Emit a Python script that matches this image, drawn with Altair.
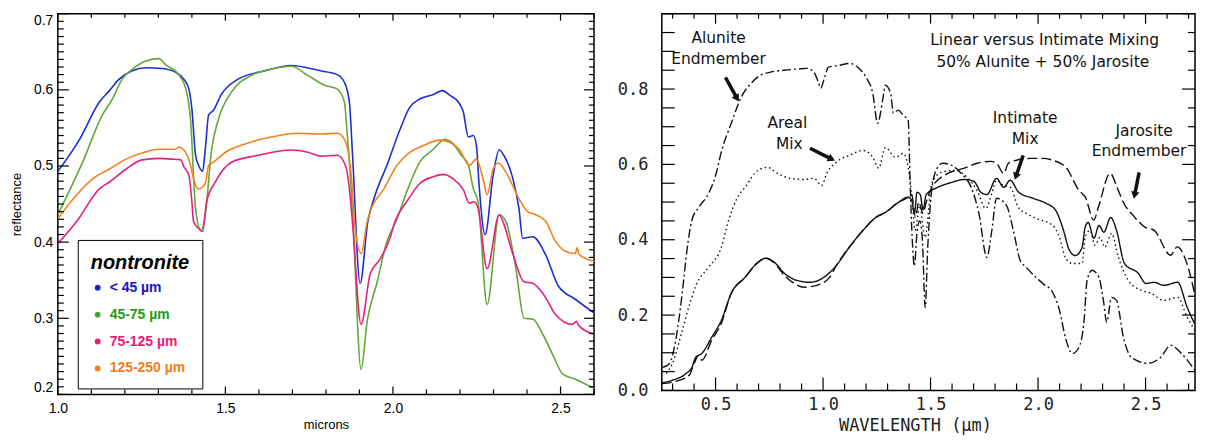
import altair as alt
import pandas as pd
import numpy as np

# ---------------- Left panel: nontronite grain sizes ----------------
sizes = ["< 45 µm", "45-75 µm", "75-125 µm", "125-250 µm"]
line_colors = ["#1c2fd4", "#62a83a", "#e8207d", "#f5821f"]
label_colors = ["#1414c8", "#1a9c1a", "#ec1a74", "#f57c18"]

blue_x = [1.000, 1.065, 1.124, 1.154, 1.183, 1.222, 1.263, 1.311, 1.352, 1.376, 1.391, 1.400, 1.411, 1.420, 1.432,
          1.440, 1.450, 1.464, 1.488, 1.538, 1.618, 1.696, 1.784, 1.834, 1.855, 1.870, 1.879, 1.902, 1.925, 1.947,
          1.982, 2.021, 2.050, 2.080, 2.121, 2.148, 2.169, 2.195, 2.210, 2.225, 2.240, 2.249, 2.257, 2.275, 2.299,
          2.317, 2.331, 2.358, 2.376, 2.387, 2.417, 2.456, 2.494, 2.544, 2.600]
blue_y = [0.493, 0.535, 0.584, 0.599, 0.614, 0.625, 0.629, 0.628, 0.623, 0.614, 0.601, 0.575, 0.514, 0.501, 0.493,
          0.522, 0.567, 0.573, 0.594, 0.614, 0.625, 0.632, 0.625, 0.620, 0.610, 0.584, 0.518, 0.346, 0.427, 0.462,
          0.501, 0.548, 0.577, 0.588, 0.594, 0.599, 0.593, 0.584, 0.571, 0.538, 0.540, 0.527, 0.475, 0.410, 0.488,
          0.521, 0.514, 0.483, 0.444, 0.405, 0.407, 0.383, 0.342, 0.325, 0.307]

green_x = [1.000, 1.074, 1.133, 1.163, 1.192, 1.222, 1.263, 1.302, 1.322, 1.361, 1.382, 1.396, 1.411, 1.427, 1.440,
           1.459, 1.479, 1.518, 1.577, 1.636, 1.696, 1.746, 1.796, 1.834, 1.855, 1.864, 1.879, 1.905, 1.923, 1.953,
           1.982, 2.009, 2.041, 2.080, 2.121, 2.154, 2.180, 2.204, 2.225, 2.240, 2.254, 2.281, 2.317, 2.337, 2.367,
           2.391, 2.417, 2.447, 2.476, 2.506, 2.544, 2.600]
green_y = [0.436, 0.505, 0.567, 0.588, 0.614, 0.627, 0.638, 0.641, 0.633, 0.620, 0.601, 0.561, 0.444, 0.415, 0.436,
           0.522, 0.561, 0.597, 0.619, 0.627, 0.631, 0.619, 0.606, 0.601, 0.584, 0.540, 0.444, 0.233, 0.296, 0.348,
           0.401, 0.427, 0.466, 0.505, 0.522, 0.535, 0.529, 0.514, 0.501, 0.470, 0.453, 0.318, 0.436, 0.427, 0.365,
           0.300, 0.299, 0.279, 0.253, 0.227, 0.220, 0.208]

pink_x = [1.000, 1.056, 1.124, 1.154, 1.204, 1.251, 1.302, 1.340, 1.367, 1.376, 1.391, 1.400, 1.405, 1.420, 1.432,
          1.444, 1.470, 1.518, 1.598, 1.696, 1.746, 1.784, 1.834, 1.858, 1.870, 1.879, 1.905, 1.932, 1.962, 1.991,
          2.006, 2.041, 2.080, 2.121, 2.151, 2.180, 2.210, 2.228, 2.243, 2.254, 2.281, 2.317, 2.328, 2.358, 2.391,
          2.417, 2.450, 2.485, 2.535, 2.548, 2.553, 2.600]
pink_y = [0.398, 0.427, 0.470, 0.479, 0.496, 0.508, 0.510, 0.509, 0.508, 0.499, 0.488, 0.453, 0.427, 0.418, 0.414,
          0.453, 0.479, 0.505, 0.514, 0.521, 0.518, 0.513, 0.514, 0.501, 0.470, 0.427, 0.292, 0.358, 0.378, 0.405,
          0.427, 0.453, 0.477, 0.486, 0.489, 0.483, 0.469, 0.451, 0.453, 0.444, 0.365, 0.436, 0.427, 0.384, 0.348,
          0.346, 0.331, 0.305, 0.292, 0.296, 0.291, 0.279]

orange_x = [1.000, 1.056, 1.104, 1.154, 1.204, 1.251, 1.302, 1.352, 1.361, 1.376, 1.396, 1.405, 1.420, 1.440, 1.450,
            1.464, 1.500, 1.559, 1.636, 1.716, 1.784, 1.834, 1.855, 1.870, 1.879, 1.885, 1.905, 1.923, 1.932, 1.973,
            2.012, 2.050, 2.092, 2.139, 2.169, 2.198, 2.228, 2.249, 2.269, 2.281, 2.299, 2.314, 2.337, 2.376, 2.402,
            2.426, 2.456, 2.485, 2.515, 2.544, 2.550, 2.555, 2.600]
orange_y = [0.431, 0.462, 0.483, 0.496, 0.509, 0.517, 0.522, 0.522, 0.525, 0.521, 0.501, 0.483, 0.470, 0.477, 0.501,
            0.505, 0.518, 0.529, 0.538, 0.543, 0.542, 0.543, 0.535, 0.509, 0.470, 0.427, 0.385, 0.427, 0.440, 0.470,
            0.501, 0.518, 0.527, 0.534, 0.531, 0.522, 0.501, 0.509, 0.483, 0.462, 0.496, 0.504, 0.492, 0.457, 0.440,
            0.436, 0.427, 0.401, 0.388, 0.385, 0.393, 0.384, 0.375]

left_ticks_y = [0.2, 0.3, 0.4, 0.5, 0.6, 0.7]
left_ticks_x = [1.0, 1.5, 2.0, 2.5]

# ---------------- Right panel: alunite / jarosite mixing ----------------
mixes = ["Alunite Endmember", "Areal Mix", "Intimate Mix", "Jarosite Endmember"]

alunite_x = [0.253, 0.285, 0.317, 0.345, 0.367, 0.390, 0.422, 0.468, 0.500, 0.530, 0.573, 0.619, 0.665, 0.710, 0.756,
             0.820, 0.879, 0.925, 0.957, 0.980, 0.989, 1.007, 1.025, 1.076, 1.122, 1.167, 1.200, 1.231, 1.254, 1.277,
             1.290, 1.314, 1.327, 1.350, 1.373, 1.396, 1.405, 1.415, 1.425, 1.437, 1.450, 1.462, 1.475, 1.487, 1.500,
             1.520, 1.556, 1.597, 1.643, 1.689, 1.725, 1.762, 1.785, 1.807, 1.853, 1.885, 1.917, 1.945, 1.990, 2.022,
             2.068, 2.100, 2.127, 2.160, 2.190, 2.214, 2.228, 2.251, 2.283, 2.306, 2.319, 2.342, 2.365, 2.397, 2.434,
             2.511, 2.571, 2.617, 2.662, 2.730]
alunite_y = [0.061, 0.071, 0.141, 0.258, 0.372, 0.452, 0.486, 0.523, 0.570, 0.640, 0.709, 0.778, 0.815, 0.837, 0.845,
             0.850, 0.853, 0.855, 0.845, 0.815, 0.802, 0.831, 0.858, 0.863, 0.868, 0.855, 0.831, 0.789, 0.709, 0.770,
             0.810, 0.789, 0.736, 0.744, 0.730, 0.717, 0.550, 0.400, 0.330, 0.420, 0.450, 0.400, 0.220, 0.380, 0.500,
             0.576, 0.603, 0.598, 0.576, 0.539, 0.470, 0.353, 0.425, 0.510, 0.491, 0.425, 0.345, 0.327, 0.300, 0.284,
             0.260, 0.212, 0.141, 0.098, 0.114, 0.186, 0.292, 0.319, 0.300, 0.231, 0.181, 0.247, 0.239, 0.141, 0.088,
             0.072, 0.088, 0.120, 0.101, 0.053]

areal_x = [0.271, 0.299, 0.345, 0.380, 0.410, 0.468, 0.527, 0.560, 0.600, 0.637, 0.697, 0.742, 0.788, 0.847, 0.911,
           0.957, 0.994, 1.017, 1.062, 1.122, 1.186, 1.231, 1.259, 1.290, 1.337, 1.373, 1.396, 1.414, 1.428, 1.450,
           1.474, 1.506, 1.551, 1.611, 1.670, 1.716, 1.757, 1.785, 1.807, 1.840, 1.871, 1.908, 1.945, 1.990, 2.068,
           2.100, 2.127, 2.160, 2.205, 2.219, 2.242, 2.265, 2.288, 2.310, 2.342, 2.374, 2.420, 2.479, 2.525, 2.585,
           2.649, 2.694, 2.730]
areal_y = [0.045, 0.071, 0.159, 0.230, 0.280, 0.327, 0.380, 0.450, 0.510, 0.539, 0.584, 0.592, 0.576, 0.563, 0.560,
           0.563, 0.544, 0.576, 0.606, 0.624, 0.637, 0.619, 0.590, 0.645, 0.619, 0.629, 0.592, 0.513, 0.425, 0.490,
           0.406, 0.550, 0.579, 0.584, 0.566, 0.531, 0.483, 0.523, 0.558, 0.544, 0.539, 0.486, 0.470, 0.457, 0.438,
           0.406, 0.353, 0.337, 0.337, 0.406, 0.425, 0.385, 0.406, 0.380, 0.417, 0.353, 0.292, 0.266, 0.258, 0.239,
           0.247, 0.194, 0.159]

intimate_x = [0.250, 0.299, 0.363, 0.390, 0.408, 0.436, 0.482, 0.527, 0.573, 0.637, 0.697, 0.733, 0.774, 0.820, 0.879,
              0.939, 1.003, 1.062, 1.122, 1.186, 1.245, 1.291, 1.350, 1.396, 1.412, 1.425, 1.437, 1.452, 1.465, 1.480,
              1.533, 1.597, 1.657, 1.702, 1.734, 1.762, 1.807, 1.840, 1.870, 1.910, 1.977, 2.036, 2.082, 2.114, 2.146,
              2.173, 2.205, 2.219, 2.233, 2.260, 2.283, 2.306, 2.338, 2.365, 2.402, 2.466, 2.502, 2.539, 2.585, 2.649,
              2.694, 2.730]
intimate_y = [0.020, 0.027, 0.045, 0.061, 0.088, 0.098, 0.141, 0.186, 0.258, 0.300, 0.340, 0.351, 0.340, 0.311, 0.292,
              0.287, 0.300, 0.332, 0.380, 0.425, 0.459, 0.473, 0.499, 0.513, 0.505, 0.470, 0.526, 0.520, 0.480, 0.520,
              0.539, 0.552, 0.560, 0.555, 0.526, 0.520, 0.563, 0.539, 0.558, 0.526, 0.510, 0.497, 0.478, 0.433, 0.372,
              0.358, 0.380, 0.433, 0.446, 0.404, 0.438, 0.420, 0.459, 0.425, 0.337, 0.311, 0.284, 0.287, 0.279, 0.287,
              0.220, 0.175]

jarosite_x = [0.250, 0.300, 0.377, 0.400, 0.422, 0.436, 0.482, 0.527, 0.573, 0.637, 0.697, 0.733, 0.774, 0.820, 0.870,
              0.911, 0.971, 1.030, 1.062, 1.122, 1.186, 1.245, 1.291, 1.350, 1.396, 1.412, 1.430, 1.445, 1.465, 1.480,
              1.506, 1.580, 1.657, 1.716, 1.780, 1.807, 1.840, 1.862, 1.899, 1.963, 2.022, 2.068, 2.129, 2.190, 2.220,
              2.259, 2.281, 2.335, 2.373, 2.396, 2.449, 2.495, 2.540, 2.617, 2.647, 2.693, 2.730]
jarosite_y = [0.018, 0.022, 0.040, 0.071, 0.093, 0.080, 0.133, 0.178, 0.258, 0.300, 0.340, 0.351, 0.338, 0.305, 0.283,
              0.274, 0.279, 0.300, 0.332, 0.380, 0.425, 0.459, 0.473, 0.499, 0.513, 0.520, 0.460, 0.500, 0.470, 0.500,
              0.539, 0.576, 0.590, 0.603, 0.608, 0.603, 0.576, 0.603, 0.611, 0.616, 0.616, 0.611, 0.593, 0.531, 0.513,
              0.452, 0.487, 0.576, 0.531, 0.500, 0.460, 0.434, 0.425, 0.359, 0.381, 0.336, 0.252]

right_ticks_y = [0.0, 0.2, 0.4, 0.6, 0.8]
right_ticks_x = [0.5, 1.0, 1.5, 2.0, 2.5]

ann_text = ["Alunite", "Endmember", "Areal", "Mix", "Linear versus Intimate Mixing",
            "50% Alunite + 50% Jarosite", "Intimate", "Mix", "Jarosite", "Endmember"]
ann_x = [0.514, 0.514, 0.834, 0.843, 2.031, 2.022, 1.940, 1.940, 2.493, 2.470]
ann_y = [0.935, 0.879, 0.709, 0.653, 0.930, 0.871, 0.722, 0.667, 0.688, 0.635]

arrow_x = [0.546, 0.939, 1.931, 2.470]
arrow_y = [0.831, 0.643, 0.624, 0.579]
arrow_x2 = [0.600, 1.040, 1.897, 2.449]
arrow_y2 = [0.775, 0.614, 0.568, 0.518]
arrow_angle = [150, 117, 199, 191]

# ---------------- geometry ----------------
LW, LH = 538, 382
RW, RH = 535, 378

# shared axis definitions (identical on every layer so they merge cleanly)
axL_x = alt.Axis(values=left_ticks_x, format=".1f", title="microns", titleFont="Liberation Sans",
                 titleFontSize=13, titleFontWeight="normal", titleColor="black", titlePadding=3,
                 labelFont="Liberation Sans", labelFontSize=14, labelColor="black", labelPadding=7,
                 ticks=False, domain=False, grid=False, labelFlush=False)
axL_y = alt.Axis(values=left_ticks_y, format=".1f", title="reflectance", titleFont="Liberation Sans",
                 titleFontSize=13, titleFontWeight="normal", titleColor="black", titlePadding=10,
                 labelFont="Liberation Sans", labelFontSize=14, labelColor="black", labelPadding=5,
                 ticks=False, domain=False, grid=False, labelFlush=True)
axR_x = alt.Axis(values=right_ticks_x, format=".1f", title="WAVELENGTH (µm)", titleFont="DejaVu Sans Mono",
                 titleFontSize=17, titleFontWeight="normal", titleColor="#222222", titlePadding=5, titleX=254,
                 labelFont="DejaVu Sans Mono", labelFontSize=17, labelColor="#222222", labelPadding=6,
                 ticks=False, domain=False, grid=False, labelFlush=False)
axR_y = alt.Axis(values=right_ticks_y, format=".1f", title="",
                 labelFont="DejaVu Sans Mono", labelFontSize=17, labelColor="#222222", labelPadding=14,
                 ticks=False, domain=False, grid=False, labelFlush=False)


def tick_layers(values, major_set, scale, axis, W, H, lens):
    df = pd.DataFrame({"v": values})
    df["major"] = [round(v, 3) in major_set for v in values]
    out = []
    for side, (lmaj, lmin) in lens.items():
        for is_major, L in ((True, lmaj), (False, lmin)):
            sub = df[df["major"] == is_major]
            if sub.empty:
                continue
            base = alt.Chart(sub).mark_rule(color="black", strokeWidth=1.2)
            if side == "left":
                enc = dict(y=alt.Y("v:Q", scale=scale, axis=axis), x=alt.value(0), x2=alt.value(L))
            elif side == "right":
                enc = dict(y=alt.Y("v:Q", scale=scale, axis=axis), x=alt.value(W), x2=alt.value(W - L))
            elif side == "bottom":
                enc = dict(x=alt.X("v:Q", scale=scale, axis=axis), y=alt.value(H), y2=alt.value(H - L))
            else:
                enc = dict(x=alt.X("v:Q", scale=scale, axis=axis), y=alt.value(0), y2=alt.value(L))
            out.append(base.encode(**enc))
    return out


# ---------------- left chart ----------------
frames = []
for name, xs, ys in zip(sizes, [blue_x, green_x, pink_x, orange_x], [blue_y, green_y, pink_y, orange_y]):
    d = pd.DataFrame({"x": xs, "y": ys})
    d["size"] = name
    d["order"] = range(len(d))
    frames.append(d)
left_df = pd.concat(frames, ignore_index=True)

xsL = alt.Scale(domain=[1.0, 2.6], nice=False, zero=False)
ysL = alt.Scale(domain=[0.2, 0.7], nice=False, zero=False)

color_expr = " : ".join(
    f"datum.label === '{s}' ? '{c}'" for s, c in zip(sizes[:-1], label_colors[:-1])
) + f" : '{label_colors[-1]}'"

left_lines = alt.Chart(left_df).mark_line(strokeWidth=1.6, clip=True, interpolate="monotone").encode(
    x=alt.X("x:Q", scale=xsL, axis=axL_x),
    y=alt.Y("y:Q", scale=ysL, axis=axL_y),
    color=alt.Color("size:N", sort=sizes, scale=alt.Scale(domain=sizes, range=line_colors),
                    legend=alt.Legend(
                        title="nontronite", orient="none", legendX=20, legendY=227, direction="vertical",
                        titleFont="Liberation Sans", titleFontSize=20, titleFontWeight="bold",
                        titleFontStyle="italic", titleColor="black", titlePadding=8,
                        labelFont="Liberation Sans", labelFontSize=14, labelFontWeight="bold",
                        labelColor=alt.ExprRef(color_expr),
                        symbolType="circle", symbolSize=20, labelOffset=5, rowPadding=13,
                        symbolFillColor=alt.ExprRef(color_expr),
                        symbolStrokeColor=alt.ExprRef(color_expr),
                        strokeColor="black", fillColor="white", padding=13)),
    order="order:Q",
)

lx = [round(v, 2) for v in np.arange(1.0, 2.6001, 0.1)]
ly = [round(v, 2) for v in np.arange(0.2, 0.7001, 0.01)]
left_layers = [left_lines]
left_layers += tick_layers(ly, {0.2, 0.3, 0.4, 0.5, 0.6, 0.7}, ysL, axL_y, LW, LH, {"left": (11, 6), "right": (10, 5)})
left_layers += tick_layers(lx, {1.0, 1.5, 2.0, 2.5}, xsL, axL_x, LW, LH, {"bottom": (8, 5), "top": (7, 4)})
left_chart = alt.layer(*left_layers).properties(width=LW, height=LH)

# ---------------- right chart ----------------
frames = []
for name, xs, ys in zip(mixes, [alunite_x, areal_x, intimate_x, jarosite_x],
                        [alunite_y, areal_y, intimate_y, jarosite_y]):
    d = pd.DataFrame({"x": xs, "y": ys})
    d["mix"] = name
    d["order"] = range(len(d))
    frames.append(d)
right_df = pd.concat(frames, ignore_index=True)

xsR = alt.Scale(domain=[0.25, 2.73], nice=False, zero=False)
ysR = alt.Scale(domain=[0.0, 1.0], nice=False, zero=False)

right_lines = alt.Chart(right_df).mark_line(color="#111111", strokeWidth=1.4, clip=True,
                                            interpolate="monotone").encode(
    x=alt.X("x:Q", scale=xsR, axis=axR_x),
    y=alt.Y("y:Q", scale=ysR, axis=axR_y),
    strokeDash=alt.StrokeDash("mix:N", scale=alt.Scale(
        domain=mixes, range=[[9, 3, 2, 3], [1.5, 3], [1, 0], [10, 4]]), legend=None),
    detail="mix:N",
    order="order:Q",
)

ann_df = pd.DataFrame({"x": ann_x, "y": ann_y, "text": ann_text})
ann = alt.Chart(ann_df).mark_text(font="DejaVu Sans", fontSize=15.5, color="#111111",
                                  align="center", baseline="middle").encode(
    x=alt.X("x:Q", scale=xsR, axis=axR_x), y=alt.Y("y:Q", scale=ysR, axis=axR_y), text="text:N")

arr_df = pd.DataFrame({"x": arrow_x, "y": arrow_y, "x2": arrow_x2, "y2": arrow_y2, "angle": arrow_angle})
arr_line = alt.Chart(arr_df).mark_rule(color="#111111", strokeWidth=3.5).encode(
    x=alt.X("x:Q", scale=xsR, axis=axR_x), y=alt.Y("y:Q", scale=ysR, axis=axR_y), x2="x2:Q", y2="y2:Q")
arr_head = alt.Chart(arr_df).mark_point(shape="triangle-up", filled=True, size=70, color="#111111",
                                        opacity=1).encode(
    x=alt.X("x2:Q", scale=xsR, axis=axR_x), y=alt.Y("y2:Q", scale=ysR, axis=axR_y),
    angle=alt.Angle("angle:Q", scale=None))

rx = [round(v, 2) for v in np.arange(0.3, 2.7001, 0.1)]
ry = [round(v, 2) for v in np.arange(0.0, 1.0001, 0.05)]
right_layers = [right_lines, ann, arr_line, arr_head]
right_layers += tick_layers(ry, {0.0, 0.2, 0.4, 0.6, 0.8, 1.0}, ysR, axR_y, RW, RH, {"left": (13, 13), "right": (13, 7)})
right_layers += tick_layers(rx, {0.5, 1.0, 1.5, 2.0, 2.5}, xsR, axR_x, RW, RH, {"bottom": (13, 7), "top": (10, 5)})
right_chart = alt.layer(*right_layers).properties(width=RW, height=RH)

chart = alt.hconcat(left_chart, right_chart, spacing=20).properties(
    padding={"left": 1, "top": 3, "right": 0, "bottom": 0}
).configure_view(stroke="black", strokeWidth=1.5).configure_axis(grid=False)

chart.save("out.html", embed_options={"renderer": "svg", "actions": False})
